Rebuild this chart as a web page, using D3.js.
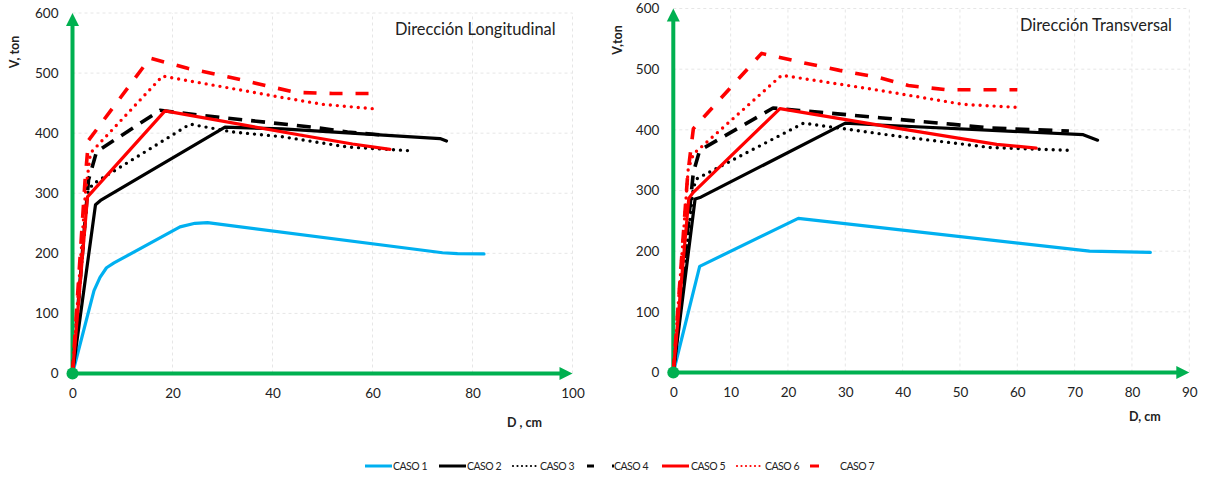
<!DOCTYPE html>
<html><head><meta charset="utf-8">
<script src="https://cdn.jsdelivr.net/npm/d3@7"></script>
<style>
body{margin:0;background:#fff;}
text{font-family:Lato,"Open Sans",sans-serif;}
</style></head>
<body><svg id="c" width="1207" height="477"></svg>
<script>
// ---------- DATA ----------
const seriesNames = ["CASO 1","CASO 2","CASO 3","CASO 4","CASO 5","CASO 6","CASO 7"];
const xTicksLong = [0,20,40,60,80,100];
const xTicksTrans = [0,10,20,30,40,50,60,70,80,90];
const yTicks = [0,100,200,300,400,500,600];

// Dirección Longitudinal  [D (cm), V (ton)]
const long1 = [[0,0],[4.3,138],[5.5,160],[6.8,176],[8.3,184],[21.5,244],[24.5,250],[27,251],[74,201],[77,199.5],[82.3,199]];
const long2 = [[0,0],[4.6,281],[5.6,288],[30.5,410],[42,407],[73.5,391],[74.8,387]];
const long3 = [[0,0],[3,300],[4,315],[23.5,415],[32,402],[42,394],[55,377],[68,370.5]];
const long4 = [[0,0],[3.2,322],[4.8,369],[17.5,438],[25.5,430],[40,417],[48,410],[55,402],[63,396]];
const long5 = [[0,0],[3,294],[18.5,437],[45.5,397],[56,382],[63.5,373]];
const long6 = [[0,0],[2.6,303],[3.6,367],[18,495],[41.5,460],[50,448],[61,440]];
const long7 = [[0,0],[2.5,320],[3.2,388],[15.5,525],[23,508],[31,494],[44.5,468],[52,466],[61,466]];

// Dirección Transversal
const trans1 = [[0,0],[4.6,175],[21.8,254],[72.6,200],[83.2,198]];
const trans2 = [[0,0],[3.8,286],[4.8,289],[30,411],[36,408],[71.5,392],[74,383]];
const trans3 = [[0,0],[3.5,305],[4.2,320],[22.7,411],[29.6,402],[39.5,389],[55.2,371],[69.7,366]];
const trans4 = [[0,0],[3.5,330],[4.6,366],[17.4,436],[22,432],[36,420],[48.8,409],[55.2,403],[69,398]];
const trans5 = [[0,0],[2.7,287],[3.5,297],[18.6,435],[39.5,402],[56.4,376],[63.3,370]];
const trans6 = [[0,0],[2.6,335],[3.5,360],[18.9,490],[36,465],[50.5,442],[60,437]];
const trans7 = [[0,0],[2.5,325],[3.5,402],[15.4,526],[22,512],[29,498],[36,486],[41,473],[47.7,466],[60,466]];

const longData = [long1,long2,long3,long4,long5,long6,long7];
const transData = [trans1,trans2,trans3,trans4,trans5,trans6,trans7];

// ---------- STYLES ----------
const styles = [
  {color:"#00B0F0", dash:null, w:3.2, cap:"round"},
  {color:"#000000", dash:null, w:3.2, cap:"round"},
  {color:"#000000", dash:"0 7", w:3.4, cap:"round"},
  {color:"#000000", dash:"14 9", w:3.6, cap:"butt"},
  {color:"#FF0000", dash:null, w:3.2, cap:"round"},
  {color:"#FF0000", dash:"0 7", w:3.4, cap:"round"},
  {color:"#FF0000", dash:"13 13", w:3.6, cap:"butt"}
];
const green = "#00B050";

const svg = d3.select("#c");

function drawChart(cfg){
  const g = svg.append("g");
  const x = d3.scaleLinear().domain([0,cfg.xMax]).range([cfg.x0,cfg.x1]);
  const y = d3.scaleLinear().domain([0,600]).range([cfg.y0,cfg.y1]);

  // gridlines
  g.selectAll(".vg").data(cfg.xTicks.filter(d=>d>0)).enter().append("line")
    .attr("x1",d=>x(d)).attr("x2",d=>x(d)).attr("y1",y(0)).attr("y2",y(600))
    .attr("stroke","#e6e6e6").attr("stroke-width",1).attr("stroke-dasharray","3 3");
  g.selectAll(".hg").data(yTicks.filter(d=>d>0)).enter().append("line")
    .attr("x1",x(0)).attr("x2",x(cfg.xMax)).attr("y1",d=>y(d)).attr("y2",d=>y(d))
    .attr("stroke","#e6e6e6").attr("stroke-width",1).attr("stroke-dasharray","3 3");

  // axes (labels only)
  const xa = d3.axisBottom(x).tickValues(cfg.xTicks).tickSize(0).tickPadding(0);
  const xg = g.append("g").attr("transform",`translate(0,${y(0)+15})`).call(xa);
  xg.select(".domain").remove();
  xg.selectAll("text").attr("font-size",13.5).attr("fill","#222").attr("font-family","Lato, sans-serif");
  const ya = d3.axisLeft(y).tickValues(yTicks).tickSize(0).tickPadding(0);
  const yg = g.append("g").attr("transform",`translate(${x(0)-14},0)`).call(ya);
  yg.select(".domain").remove();
  yg.selectAll("text").attr("font-size",13.5).attr("fill","#222").attr("font-family","Lato, sans-serif");

  // green axes with arrows
  g.append("line").attr("x1",x(0)).attr("x2",x(cfg.xMax)-10).attr("y1",y(0)).attr("y2",y(0))
    .attr("stroke",green).attr("stroke-width",4);
  g.append("path").attr("d",`M${x(cfg.xMax)},${y(0)} L${x(cfg.xMax)-13},${y(0)-6.5} L${x(cfg.xMax)-13},${y(0)+6.5}Z`).attr("fill",green);
  g.append("line").attr("x1",x(0)).attr("x2",x(0)).attr("y1",y(0)).attr("y2",y(600)+10)
    .attr("stroke",green).attr("stroke-width",4);
  g.append("path").attr("d",`M${x(0)},${y(600)} L${x(0)-6.5},${y(600)+13} L${x(0)+6.5},${y(600)+13}Z`).attr("fill",green);

  // series
  const line = d3.line().x(d=>x(d[0])).y(d=>y(d[1])).curve(d3.curveLinear);
  cfg.data.forEach((s,i)=>{
    const st = styles[i];
    g.append("path").attr("d", line(s))
      .attr("fill","none").attr("stroke",st.color).attr("stroke-width",st.w)
      .attr("stroke-linecap",st.cap).attr("stroke-linejoin","round")
      .attr("stroke-dasharray",st.dash);
  });

  // origin dot
  g.append("circle").attr("cx",x(0)).attr("cy",y(0)).attr("r",6).attr("fill",green);

  // titles
  g.append("text").attr("x",cfg.titleX).attr("y",cfg.titleY).attr("font-size",16.4).attr("fill","#222").text(cfg.title);
  g.append("text").attr("transform",`translate(${cfg.yLabX},${cfg.yLabY}) rotate(-90)`)
    .attr("text-anchor","middle").attr("font-size",12.5).attr("font-weight","bold").attr("fill","#222").text(cfg.yLabel);
  g.append("text").attr("x",cfg.xLabX).attr("y",cfg.xLabY).attr("font-size",12.5).attr("font-weight","bold").attr("fill","#222").text(cfg.xLabel);
}

drawChart({data:longData, xMax:100, xTicks:xTicksLong, x0:72.5, x1:572.5, y0:373.5, y1:13,
  title:"Dirección Longitudinal", titleX:395, titleY:35,
  yLabel:"V, ton", yLabX:19, yLabY:52, xLabel:"D , cm", xLabX:507, xLabY:427});
drawChart({data:transData, xMax:90, xTicks:xTicksTrans, x0:673.3, x1:1189.3, y0:372.5, y1:8.5,
  title:"Dirección Transversal", titleX:1020, titleY:31,
  yLabel:"V,ton", yLabX:622, yLabY:40, xLabel:"D, cm", xLabX:1129, xLabY:421});

// ---------- LEGEND ----------
const legX = [365,439,513,587,662,737,810];
const legTextX = [393,467,540,614,691,765,840];
const lg = svg.append("g");
seriesNames.forEach((n,i)=>{
  const st = styles[i];
  let x1 = legX[i], x2 = legX[i]+27;
  let dash = st.dash;
  if(i===2||i===5) dash = "0 4.5";
  if(i===3){ dash = "7 18 2 10"; x2 = legX[i]+27; }
  if(i===6){ dash = null; x2 = legX[i]+9; }
  lg.append("line").attr("x1",x1).attr("x2",x2).attr("y1",466).attr("y2",466)
    .attr("stroke",st.color).attr("stroke-width",(i===2||i===5)?2.2:3)
    .attr("stroke-linecap",(i===2||i===5)?"round":"butt").attr("stroke-dasharray",dash);
  lg.append("text").attr("x",legTextX[i]).attr("y",470).attr("font-size",10.5).attr("letter-spacing",-0.5)
    .attr("fill","#222").text(n);
});
</script></body></html>
